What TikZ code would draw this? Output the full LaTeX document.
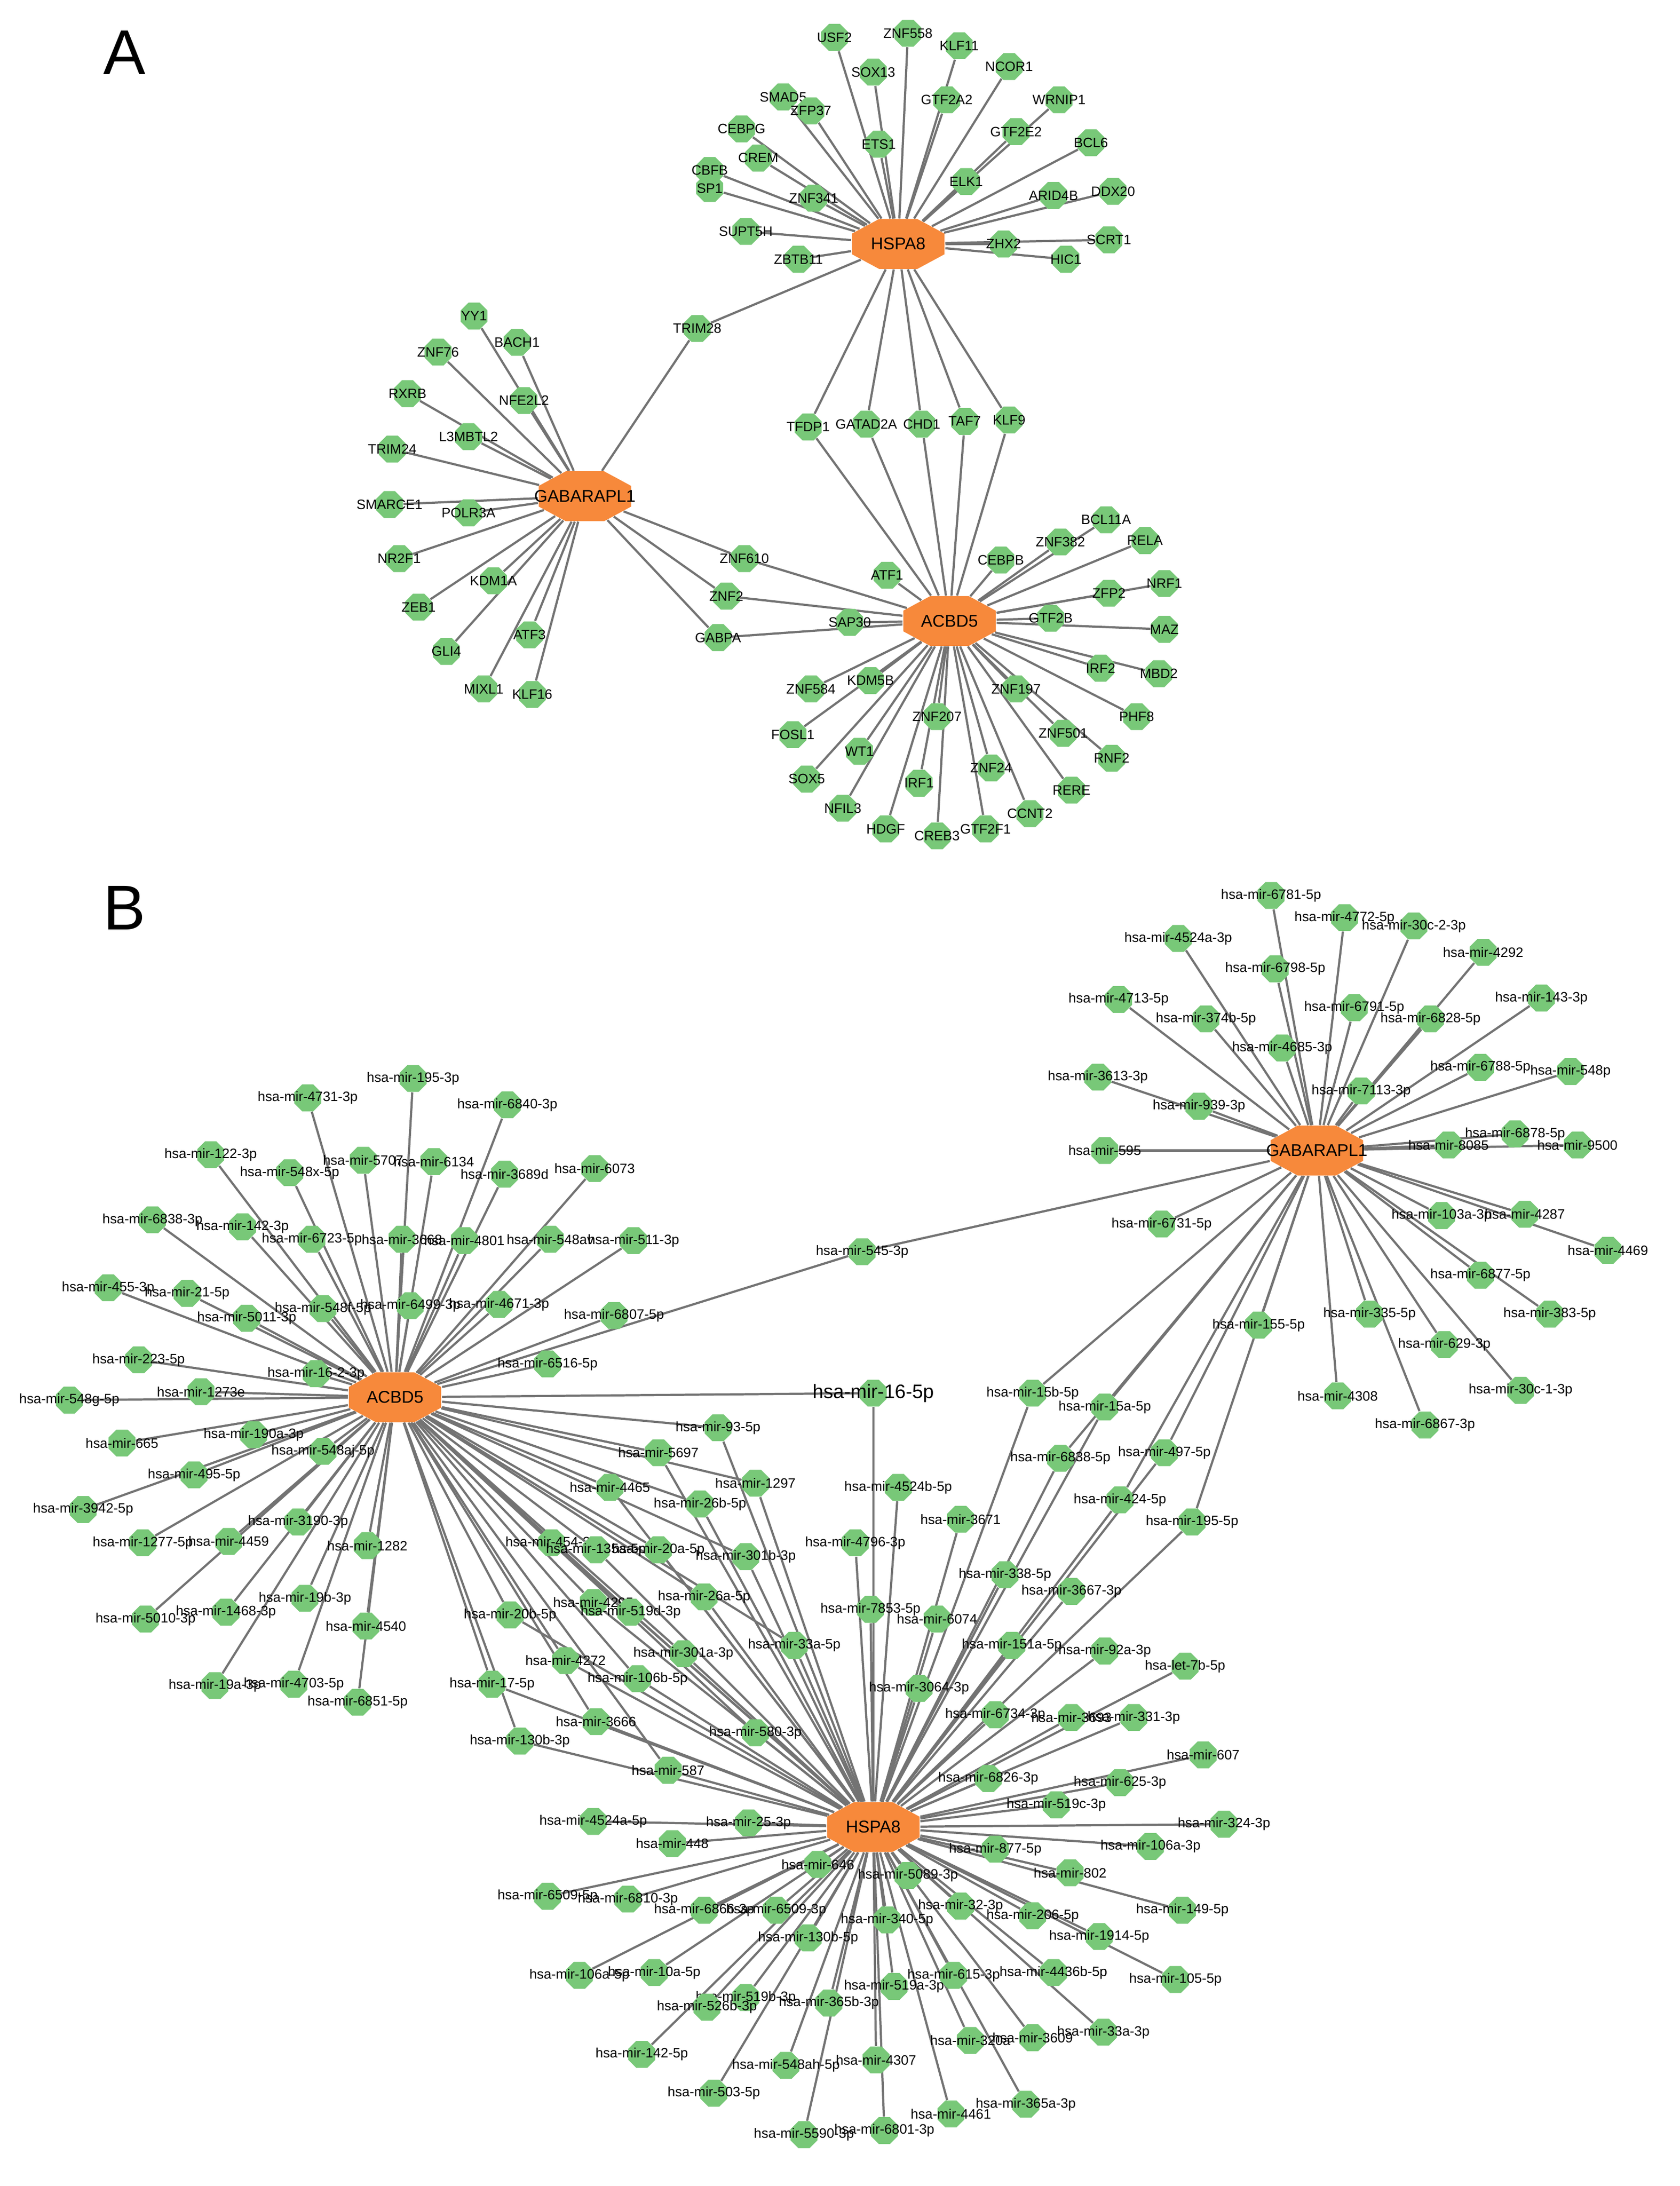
\documentclass[tikz,border=0pt]{standalone}
\usepackage{fontspec}
\setmainfont{Liberation Sans}
\usetikzlibrary{shapes.geometric}
\pgfdeclarelayer{bg}\pgfsetlayers{bg,main}
\definecolor{gfill}{RGB}{120,200,120}
\definecolor{ofill}{RGB}{247,137,59}
\def\Alist{SMAD5/565/70/AH, USF2/602/27/AH, ZNF558/655/24/AH, KLF11/692/33/AH, SOX13/630/52/AH, CEBPG/535/93/AH, ZFP37/585/80/AH, NCOR1/728/48/AH, GTF2A2/683/72/AH, WRNIP1/764/72/AH, CBFB/512/123/AH, CREM/547/114/AH, ETS1/634/104/AH, GTF2E2/733/95/AH, BCL6/787/103/AH, SP1/512/136/AH, ZNF341/587/143/AH, ELK1/697/131/AH, ARID4B/760/141/AH, DDX20/803/138/AH, SUPT5H/538/167/AH, ZBTB11/576/187/AH, ZHX2/724/176/AH, SCRT1/800/173/AH, HIC1/769/187/AH,
TRIM28/503/237/{AH,AG}, TFDP1/583/308/{AH,AC}, GATAD2A/625/306/{AH,AC}, CHD1/665/306/{AH,AC}, TAF7/696/304/{AH,AC}, KLF9/728/303/{AH,AC},
YY1/342/228/AG, BACH1/373/247/AG, ZNF76/316/254/AG, NFE2L2/378/289/AG, RXRB/294/284/AG, L3MBTL2/338/315/AG, TRIM24/283/324/AG, SMARCE1/281/364/AG, POLR3A/338/370/AG, NR2F1/288/403/AG, KDM1A/356/419/AG, ZEB1/302/438/AG, ATF3/382/458/AG, GLI4/322/470/AG, MIXL1/349/497/AG, KLF16/384/501/AG,
ZNF610/537/403/{AG,AC}, ZNF2/524/430/{AG,AC}, GABPA/518/460/{AG,AC},
ATF1/640/415/AC, CEBPB/722/404/AC, ZNF382/765/391/AC, BCL11A/798/375/AC, RELA/826/390/AC, ZFP2/800/428/AC, NRF1/840/421/AC, GTF2B/758/446/AC, MAZ/840/454/AC, SAP30/613/449/AC, IRF2/794/482/AC, MBD2/836/486/AC, ZNF197/733/497/AC, PHF8/820/517/AC, ZNF584/585/497/AC, KDM5B/628/491/AC, ZNF501/767/529/AC, ZNF207/676/517/AC, FOSL1/572/530/AC, WT1/620/542/AC, RNF2/802/547/AC, ZNF24/715/554/AC, SOX5/582/562/AC, IRF1/663/565/AC, RERE/773/570/AC, NFIL3/608/583/AC, HDGF/639/598/AC, CREB3/676/603/AC, GTF2F1/711/598/AC, CCNT2/743/587/AC}
\def\Blist{6781-5p/917/646/BG, 4524a-3p/850/677/BG, 4772-5p/970/662/BG, 30c-2-3p/1020/668/BG, 4292/1070/687/BG, 6798-5p/920/699/BG, 143-3p/1112/720/BG, 4713-5p/807/721/BG, 374b-5p/870/735/BG, 6791-5p/977/727/BG, 6828-5p/1032/735/BG, 4685-3p/925/756/BG, 3613-3p/792/777/BG, 6788-5p/1068/770/BG, 548p/1133/773/BG, 7113-3p/982/787/BG, 939-3p/865/798/BG, 6878-5p/1093/818/BG, 595/797/830/BG, 8085/1045/826/BG, 9500/1138/826/BG, 6731-5p/838/883/BG, 103a-3p/1040/877/BG, 4287/1100/876/BG, 4469/1160/902/BG, 545-3p/622/903/{BG,BC}, 6877-5p/1068/920/BG, 155-5p/908/956/BG, 335-5p/988/948/BG, 383-5p/1118/948/BG, 629-3p/1042/970/BG, 4308/965/1007/BG, 30c-1-3p/1097/1003/BG, 6867-3p/1028/1028/BG,
15b-5p/745/1005/{BG,BH}, 15a-5p/797/1015/{BG,BH}, 6838-5p/765/1052/{BG,BH}, 497-5p/840/1048/{BG,BH}, 424-5p/808/1082/{BG,BH}, 195-5p/860/1098/{BG,BH},
4731-3p/222/792/BC, 195-3p/298/778/BC, 6840-3p/366/797/BC, 122-3p/152/833/BC, 5707/262/837/BC, 6134/313/838/BC, 548x-5p/209/846/BC, 3689d/364/847/BC, 6073/429/843/BC, 6838-3p/110/880/BC, 142-3p/175/885/BC, 6723-5p/225/894/BC, 3668/290/894/BC, 4801/335/895/BC, 548av/397/894/BC, 511-3p/457/895/BC, 455-3p/78/929/BC, 21-5p/135/933/BC, 5011-3p/178/951/BC, 548f-5p/233/944/BC, 6499-3p/296/942/BC, 4671-3p/360/941/BC, 6807-5p/443/949/BC, 223-5p/100/981/BC, 16-2-3p/228/991/BC, 6516-5p/395/984/BC, 548g-5p/50/1010/BC, 1273e/145/1004/BC, 665/88/1041/BC, 190a-3p/183/1035/BC, 548aj-5p/233/1047/BC, 495-5p/140/1064/BC, 3942-5p/60/1089/BC, 3190-3p/215/1098/BC, 1277-5p/103/1113/BC, 4459/165/1112/BC, 1282/265/1115/BC, 5010-3p/105/1168/BC, 1468-3p/163/1163/BC, 19b-3p/220/1153/BC, 4540/264/1173/BC, 19a-3p/155/1216/BC, 4703-5p/212/1215/BC, 6851-5p/258/1228/BC,
93-5p/518/1030/{BC,BH}, 5697/475/1048/{BC,BH}, 1297/545/1070/{BC,BH}, 4465/440/1073/{BC,BH}, 26b-5p/505/1085/{BC,BH}, 454-3p/398/1113/{BC,BH}, 135a-5p/430/1118/{BC,BH}, 20a-5p/475/1118/{BC,BH}, 301b-3p/538/1123/{BC,BH}, 4295/428/1156/{BC,BH}, 26a-5p/508/1152/{BC,BH}, 20b-5p/368/1165/{BC,BH}, 519d-3p/455/1163/{BC,BH}, 33a-5p/573/1187/{BC,BH}, 4272/408/1198/{BC,BH}, 301a-3p/493/1193/{BC,BH}, 106b-5p/460/1211/{BC,BH}, 17-5p/355/1215/{BC,BH}, 3666/430/1242/{BC,BH}, 580-3p/545/1250/{BC,BH}, 130b-3p/375/1256/{BC,BH}, 587/482/1277/{BC,BH},
4524b-5p/648/1073/BH, 3671/693/1096/BH, 4796-3p/617/1113/BH, 338-5p/725/1136/BH, 3667-3p/773/1148/BH, 7853-5p/628/1161/BH, 6074/676/1168/BH, 151a-5p/730/1187/BH, 92a-3p/797/1191/BH, 3064-3p/663/1218/BH, 6734-3p/718/1237/BH, 3693/773/1239/BH, 331-3p/818/1239/BH, 607/868/1266/BH, 6826-3p/713/1283/BH, 625-3p/808/1286/BH, 519c-3p/762/1302/BH, 324-3p/883/1316/BH, 106a-3p/830/1332/BH, 877-5p/718/1334/BH, 802/772/1351/BH, 149-5p/853/1378/BH, 4524a-5p/428/1314/BH, 25-3p/540/1315/BH, 448/485/1330/BH, 646/590/1345/BH, 5089-3p/655/1353/BH, 6509-5p/395/1368/BH, 6810-3p/453/1370/BH, 6866-3p/508/1378/BH, 6509-3p/560/1378/BH, 32-3p/693/1375/BH, 206-5p/745/1382/BH, 340-5p/640/1385/BH, 1914-5p/793/1397/BH, 130b-5p/583/1398/BH, 105-5p/848/1428/BH, 106a-5p/418/1425/BH, 10a-5p/472/1423/BH, 4436b-5p/760/1423/BH, 615-3p/688/1425/BH, 519b-3p/538/1441/BH, 519a-3p/645/1433/BH, 526b-3p/510/1448/BH, 365b-3p/598/1445/BH, 33a-3p/796/1466/BH, 3609/745/1470/BH, 320a/700/1472/BH, 142-5p/463/1482/BH, 548ah-5p/567/1490/BH, 4307/632/1486/BH, 365a-3p/740/1518/BH, 503-5p/515/1510/BH, 4461/686/1525/BH, 5590-3p/580/1540/BH, 6801-3p/638/1537/BH}
\begin{document}
\begin{tikzpicture}[x=0.02cm,y=-0.02cm,
 gn/.style={regular polygon,regular polygon sides=8,fill=gfill,draw=none,minimum size=0.42cm,inner sep=0pt},
 hubs/.style={regular polygon,regular polygon sides=8,fill=ofill,draw=none,minimum size=0.78cm,inner sep=0pt,xscale=1.85,transform shape},
 lab/.style={font=\fontsize{5.6}{6}\selectfont,inner sep=0pt},
 hlab/.style={font=\fontsize{7}{8}\selectfont,inner sep=0pt},
 edge/.style={draw=gray!90!black,line width=0.9pt}]
\useasboundingbox (0,0) rectangle (1212,1577);
\node[font=\fontsize{26}{28}\selectfont] (PA) at (90,38) {A};
\node[font=\fontsize{26}{28}\selectfont] (PB) at (90,655) {B};
\foreach \h/\t/\x/\y in {AH/HSPA8/648/176, AG/GABARAPL1/422/358, AC/ACBD5/685/448, BG/GABARAPL1/950/830, BC/ACBD5/285/1008, BH/HSPA8/630/1318}{
 \node[hubs] (\h) at (\x,\y) {};
 \node[hlab] (\h-t) at (\x,\y) {\t};
}
\foreach \n/\x/\y/\hh in \Alist {
 \node[gn] (A-\n) at (\x,\y) {};
 \node[lab] (A-\n-t) at (\x,\y) {\n};
}
\foreach \n/\x/\y/\hh in \Blist {
 \node[gn] (B-\n) at (\x,\y) {};
 \node[lab] (B-\n-t) at (\x,\y) {hsa-mir-\n};
}
\node[gn] (B-let7b) at (855,1202) {};
\node[lab] (B-let7b-t) at (855,1202) {hsa-let-7b-5p};
\node[gn] (B-16-5p) at (630,1005) {};
\node[hlab,font=\fontsize{8}{9}\selectfont] (B-16-5p-t) at (630,1005) {hsa-mir-16-5p};
\begin{pgfonlayer}{bg}
\foreach \n/\x/\y/\hh in \Alist {\foreach \h in \hh {\draw[edge] (\h) -- (A-\n);}}
\foreach \n/\x/\y/\hh in \Blist {\foreach \h in \hh {\draw[edge] (\h) -- (B-\n);}}
\draw[edge] (BH) -- (B-let7b);
\draw[edge] (BC) -- (B-16-5p);
\draw[edge] (BH) -- (B-16-5p);
\end{pgfonlayer}
\end{tikzpicture}
\end{document}
